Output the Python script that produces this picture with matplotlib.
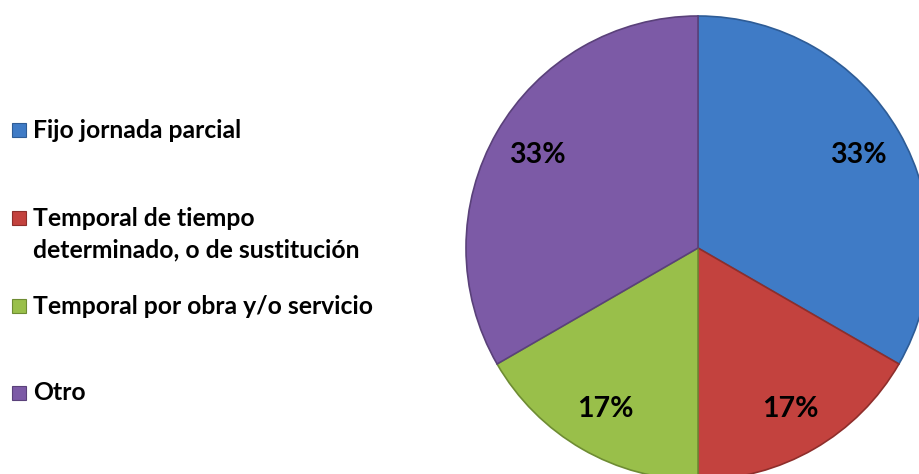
import matplotlib.pyplot as plt
from matplotlib.patches import Rectangle

categories = [
    "Fijo jornada parcial",
    "Temporal de tiempo\ndeterminado, o de sustitución",
    "Temporal por obra y/o servicio",
    "Otro",
]
counts = [2, 1, 1, 2]
colors = ["#3F7BC6", "#C3423E", "#99BF4A", "#7C5AA6"]
edges = ["#2E5C96", "#8E2E2B", "#6E8C33", "#5A417A"]

FONT = "Lato"
W, H = 920, 474
fig = plt.figure(figsize=(W / 100, H / 100), dpi=100)
ax = fig.add_axes([0, 0, 1, 1])

wedges, _, pct = ax.pie(
    counts,
    colors=colors,
    startangle=90,
    counterclock=False,
    center=(698, H - 248),
    radius=232,
    autopct=lambda p: f"{p:.0f}%",
    pctdistance=0.8,
    frame=True,
    wedgeprops=dict(linewidth=1.2),
    textprops=dict(fontsize=20.5, fontweight="bold", family=FONT, color="black"),
)
for w, ec in zip(wedges, edges):
    w.set_edgecolor(ec)
ax.set_xlim(0, W)
ax.set_ylim(0, H)
ax.set_aspect("equal")
ax.axis("off")

# legend drawn by hand on the left side
rows_y = [130, 218, 306, 393]
for label, color, edge, y in zip(categories, colors, edges, rows_y):
    ax.add_patch(Rectangle((12, H - y - 7), 14, 14, facecolor=color,
                           edgecolor=edge, linewidth=0.8))
    for i, line in enumerate(label.split("\n")):
        ax.text(33, H - y - i * 32, line, fontsize=17.8, fontweight="bold",
                family=FONT, va="center", ha="left")

fig.savefig("out.png", dpi=100, facecolor="white")
